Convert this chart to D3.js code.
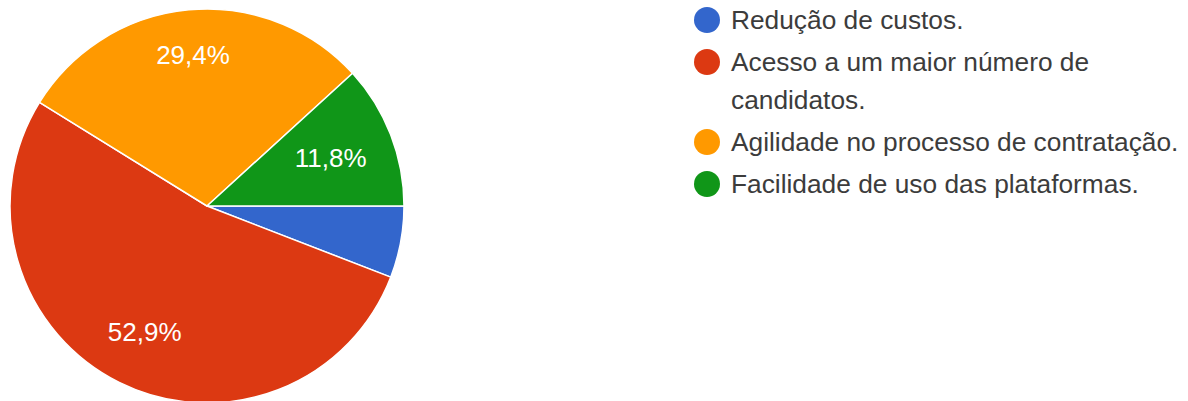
<!DOCTYPE html>
<html>
<head>
<meta charset="utf-8">
<script src="https://cdn.jsdelivr.net/npm/d3@7"></script>
<style>
  html, body { margin: 0; padding: 0; background: #fff; }
  svg { display: block; }
</style>
</head>
<body>
<svg id="chart" width="1188" height="401"></svg>
<script>
// Survey answers and their share of the 17 responses
const categories = [
  "Redução de custos.",
  "Acesso a um maior número de candidatos.",
  "Agilidade no processo de contratação.",
  "Facilidade de uso das plataformas."
];
const counts = [1, 9, 5, 2];
const colors = ["#3366cc", "#dc3912", "#ff9900", "#109618"];

const svg = d3.select("#chart");
const cx = 207, cy = 206, radius = 197;
const total = d3.sum(counts);
const fontFamily = "Arial, 'Liberation Sans', sans-serif";

const pie = d3.pie().sort(null).value(d => d)
  .startAngle(Math.PI / 2).endAngle(Math.PI / 2 + 2 * Math.PI);
const arcs = pie(counts);
const arc = d3.arc().innerRadius(0).outerRadius(radius);

const g = svg.append("g").attr("transform", `translate(${cx},${cy})`);

g.selectAll("path.slice")
  .data(arcs)
  .join("path")
  .attr("class", "slice")
  .attr("d", arc)
  .attr("fill", (d, i) => colors[i])
  .attr("stroke", "#fff")
  .attr("stroke-width", 1.5)
  .attr("stroke-linejoin", "round");

// Percent labels inside slices that are big enough
const fmt = v => (v * 100).toFixed(1).replace(".", ",") + "%";
const labelRadius = [0.7, 0.71, 0.77, 0.673];
g.selectAll("text.pct")
  .data(arcs.filter(d => d.value / total > 0.08))
  .join("text")
  .attr("class", "pct")
  .attr("transform", d => {
    const a = (d.startAngle + d.endAngle) / 2;
    const r = radius * labelRadius[d.index];
    return `translate(${Math.sin(a) * r},${-Math.cos(a) * r})`;
  })
  .attr("text-anchor", "middle")
  .attr("dy", "0.36em")
  .attr("fill", "#fff")
  .style("font-family", fontFamily)
  .style("font-size", "26px")
  .text(d => fmt(d.value / total));

// Legend with wrapped labels
const legend = svg.append("g").attr("transform", "translate(707,0)");
const maxWidth = 452, lineH = 38, entryGap = 4;

let y = 20;
categories.forEach((name, i) => {
  const item = legend.append("g");
  item.append("circle").attr("cx", 0).attr("cy", y).attr("r", 13).attr("fill", colors[i]);
  const text = item.append("text").attr("x", 24).attr("y", y).attr("dy", "0.36em")
    .attr("fill", "#3c3c3c")
    .style("font-family", fontFamily)
    .style("font-size", "26.3px");
  // word wrap
  const words = name.split(" ");
  let line = [], lineNo = 0;
  let tspan = text.append("tspan").attr("x", 24);
  words.forEach(w => {
    line.push(w);
    tspan.text(line.join(" "));
    if (tspan.node().getComputedTextLength() > maxWidth && line.length > 1) {
      line.pop();
      tspan.text(line.join(" "));
      line = [w];
      lineNo++;
      tspan = text.append("tspan").attr("x", 24).attr("dy", lineH).text(w);
    }
  });
  y += (lineNo + 1) * lineH + entryGap;
});
</script>
</body>
</html>
